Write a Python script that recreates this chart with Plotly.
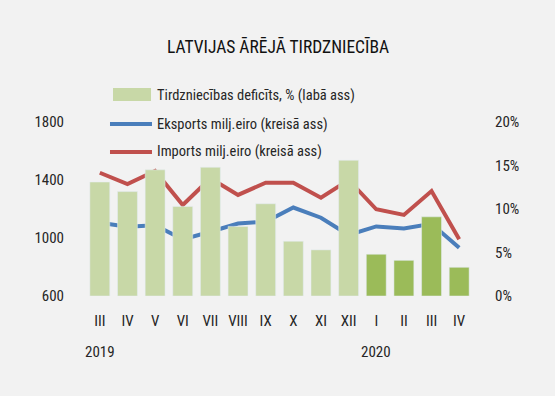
import plotly.graph_objects as go

months = ["III", "IV", "V", "VI", "VII", "VIII", "IX", "X", "XI", "XII", "I", "II", "III", "IV"]
deficit = [13.1, 12.0, 14.5, 10.3, 14.8, 8.0, 10.6, 6.3, 5.3, 15.6, 4.8, 4.1, 9.1, 3.3]
exports = [1105, 1078, 1088, 991, 1043, 1100, 1112, 1210, 1140, 1021, 1080, 1065, 1098, 933]
imports = [1450, 1372, 1462, 1228, 1412, 1297, 1381, 1381, 1278, 1400, 1198, 1159, 1324, 991]
years = ["2019", "2020"]
year_pos = [0, 10]
legend_names = ["Tirdzniecības deficīts, % (labā ass)", "Eksports milj.eiro (kreisā ass)",
                "Imports milj.eiro (kreisā ass)"]

x = list(range(len(months)))
font = "Roboto Condensed, DejaVu Sans Condensed, sans-serif"
light_green, dark_green, blue, red = "#c8d8a7", "#9bbb59", "#4a7ebb", "#c0504d"
bar_colors = [light_green] * 10 + [dark_green] * 4
text_col = "#262626"

fig = go.Figure()
fig.add_bar(x=x, y=[d / 100 for d in deficit], marker_color=bar_colors, yaxis="y2",
            name=legend_names[0], showlegend=False)
fig.add_scatter(x=x, y=exports, mode="lines", line=dict(color=blue, width=4),
                name=legend_names[1], showlegend=False)
fig.add_scatter(x=x, y=imports, mode="lines", line=dict(color=red, width=4),
                name=legend_names[2], showlegend=False)

for yr, p in zip(years, year_pos):
    fig.add_annotation(x=p, y=-0.322, xref="x", yref="paper", text=yr, showarrow=False,
                       yanchor="middle", font=dict(size=15, color=text_col))

# manual legend
fig.add_shape(type="rect", xref="paper", yref="paper", x0=0.0698, x1=0.168, y0=1.1207, y1=1.1954,
              fillcolor=light_green, line=dict(width=0))
fig.add_shape(type="line", xref="paper", yref="paper", x0=0.062, x1=0.1705, y0=0.9885, y1=0.9885,
              line=dict(color=blue, width=4))
fig.add_shape(type="line", xref="paper", yref="paper", x0=0.062, x1=0.1705, y0=0.8276, y1=0.8276,
              line=dict(color=red, width=4))
for name, yy in zip(legend_names, [1.155, 0.9885, 0.8276]):
    fig.add_annotation(x=0.178, y=yy, xref="paper", yref="paper", text=name, showarrow=False,
                       xanchor="left", yanchor="middle", font=dict(size=14.5, color=text_col))

fig.update_layout(
    width=555, height=396,
    paper_bgcolor="#f2f2f2", plot_bgcolor="#f2f2f2",
    margin=dict(l=86, r=82, t=122, b=100),
    font=dict(family=font, size=15, color=text_col),
    title=dict(text="LATVIJAS ĀRĒJĀ TIRDZNIECĪBA", x=0.501, xanchor="center", y=0.881, yanchor="middle",
               font=dict(family=font, size=17.5, color="#111")),
    bargap=0.28,
    showlegend=False,
    xaxis=dict(tickvals=x, ticktext=months, range=[-0.5, 13.5], showgrid=False, zeroline=False,
               ticks="", tickfont=dict(size=15, color=text_col), ticklabelstandoff=14),
    yaxis=dict(range=[600, 1800], tickvals=[600, 1000, 1400, 1800], showgrid=False, zeroline=False,
               ticks="", tickfont=dict(size=15, color=text_col), ticklabelstandoff=21),
    yaxis2=dict(range=[0, 0.2], tickvals=[0, 0.05, 0.1, 0.15, 0.2], tickformat=".0%", overlaying="y",
                side="right", showgrid=False, zeroline=False, ticks="",
                tickfont=dict(size=15, color=text_col), ticklabelstandoff=21),
)
fig.write_html("out.html", config={"displayModeBar": False},
               post_script="document.body.style.margin='0';document.body.style.background='#f2f2f2';")
